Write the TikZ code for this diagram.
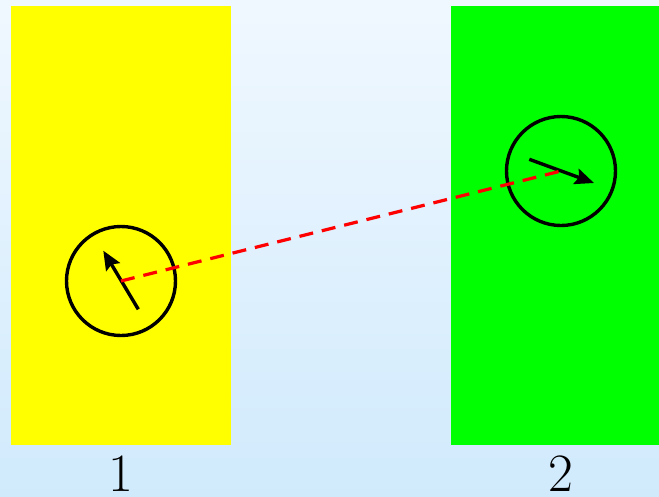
\documentclass[tikz,border=0pt]{standalone}
\usetikzlibrary{arrows.meta}
\definecolor{bgtop}{RGB}{240,248,255}
\definecolor{bgbot}{RGB}{208,234,252}
\definecolor{yel}{RGB}{255,255,0}
\definecolor{grn}{RGB}{0,255,0}
\definecolor{rd}{RGB}{255,0,0}
\begin{document}
\begin{tikzpicture}[x=1pt,y=-1pt,
  panel/.style={draw=none,inner sep=0pt,outer sep=0pt,rectangle},
  wheel/.style={draw=black,line width=3.4pt,circle,minimum size=109pt,inner sep=0pt},
  needle/.style={line width=3.4pt,-{Stealth[length=19pt,width=16pt,inset=3pt]}},
  link/.style={draw=rd,line width=3.2pt,dash pattern=on 14pt off 9pt},
  lab/.style={font=\fontsize{54}{60}\selectfont,anchor=base,inner sep=0pt}]
\useasboundingbox (0,0) rectangle (659,496);
\shade[top color=bgtop,bottom color=bgbot] (0,0) rectangle (659,496);
\node[panel,fill=yel,minimum width=220pt,minimum height=439pt] (p1) at (121,225.5) {};
\node[panel,fill=grn,minimum width=208pt,minimum height=439pt] (p2) at (555,225.5) {};
\node[wheel] (c1) at (121,281) {};
\node[wheel] (c2) at (561,171) {};
\coordinate (a1s) at (138.3,309.3);
\coordinate (a1e) at (103.3,250.7);
\coordinate (a2s) at (529.3,159.3);
\coordinate (a2e) at (594,183);
\draw[needle] (a1s) -- (a1e);
\draw[needle] (a2s) -- (a2e);
\draw[link] (c1.center) -- (c2.center);
\node[lab] (l1) at (121,491) {1};
\node[lab] (l2) at (561,491) {2};
\end{tikzpicture}
\end{document}
